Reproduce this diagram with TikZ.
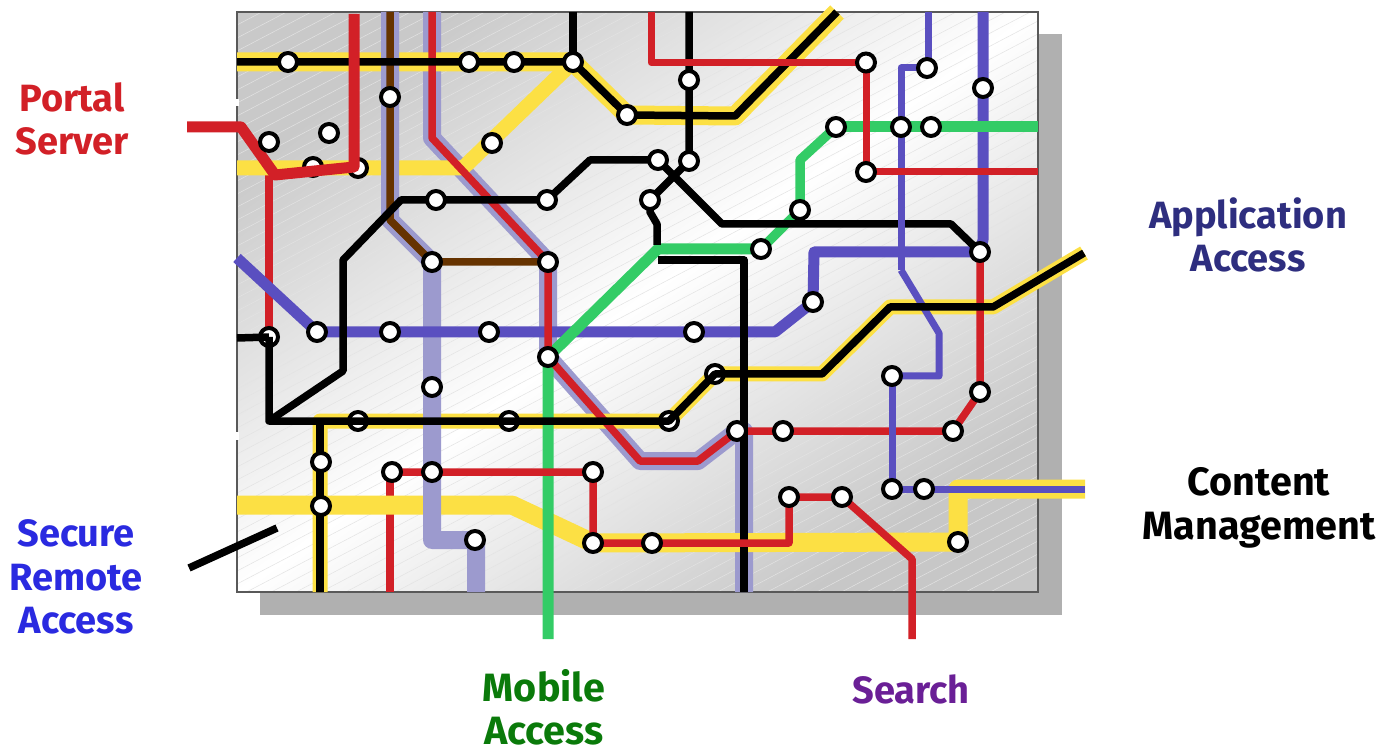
\documentclass[tikz,border=0pt]{standalone}
\usepackage{fontspec}
\setmainfont{Fira Sans}
\definecolor{lineRed}{HTML}{D22027}
\definecolor{lineYellow}{HTML}{FCE044}
\definecolor{linePurple}{HTML}{5A4FC0}
\definecolor{linePale}{HTML}{9C9ACE}
\definecolor{lineBrown}{HTML}{663300}
\definecolor{lineGreen}{HTML}{33CC66}
\definecolor{textNavy}{HTML}{2E2E7F}
\definecolor{textBlue}{HTML}{2A2AE0}
\definecolor{textGreen}{HTML}{0A7A0A}
\definecolor{textPurple}{HTML}{6A1F96}
\pgfdeclarelayer{lines}
\pgfsetlayers{lines,main}
\tikzset{
  station/.style={circle,draw=black,fill=white,line width=4pt,minimum size=18pt,inner sep=0pt},
  tube/.style={line width=#1,line join=round},
  label/.style={font=\bfseries\fontsize{38}{43.3}\selectfont,align=center,inner sep=0pt},
  biglabel/.style={label,font=\bfseries\fontsize{39.5}{43.3}\selectfont},
}
\begin{document}
\begin{tikzpicture}[x=1pt,y=-1pt]
\useasboundingbox (0,0) rectangle (1385,751);
% stations on top of every line
\node[station] (topA) at (288,62) {};
\node[station] (topB) at (469,62) {};
\node[station] (topC) at (514,62) {};
\node[station] (topD) at (573,62) {};
\node[station] (topE) at (627,115) {};
\node[station] (topF) at (689,80) {};
\node[station] (topG) at (390,97) {};
\node[station] (portA) at (269,142) {};
\node[station] (portB) at (329,133) {};
\node[station] (midA) at (492,143) {};
\node[station] (midB) at (436,200) {};
\node[station] (midC) at (547,200) {};
\node[station] (midD) at (432,262) {};
\node[station] (midE) at (548,262) {};
\node[station] (midF) at (658,160) {};
\node[station] (midG) at (689,161) {};
\node[station] (midH) at (650,200) {};
\node[station] (appA) at (866,62.5) {};
\node[station] (appB) at (927,68) {};
\node[station] (appC) at (983,88) {};
\node[station] (appD) at (836,127) {};
\node[station] (appE) at (901,127) {};
\node[station] (appF) at (931,127) {};
\node[station] (appG) at (866,172) {};
\node[station] (appH) at (800,210) {};
\node[station] (appI) at (761,249) {};
\node[station] (appJ) at (980,252) {};
\node[station] (appK) at (813,302) {};
\node[station] (purA) at (317,332) {};
\node[station] (purB) at (390,332) {};
\node[station] (purC) at (489,332) {};
\node[station] (purD) at (694,332) {};
\node[station] (cross) at (548,357) {};
\node[station] (paleA) at (432,387) {};
\node[station] (secA) at (321,462) {};
\node[station] (secB) at (321,506) {};
\node[station] (botA) at (392,472) {};
\node[station] (botB) at (432,472) {};
\node[station] (botC) at (593,472) {};
\node[station] (botD) at (475,540) {};
\node[station] (botE) at (593,543) {};
\node[station] (botF) at (652,543) {};
\node[station] (botG) at (789,497) {};
\node[station] (botH) at (842,497) {};
\node[station] (botI) at (958,542) {};
\node[station] (redA) at (737,431) {};
\node[station] (redB) at (783,431) {};
\node[station] (redC) at (953,431) {};
\node[station] (redD) at (980,392) {};
\node[station] (conA) at (892,376) {};
\node[station] (conB) at (892,489) {};
\node[station] (conC) at (924,489) {};
% free ends of the lines
\coordinate (edgeA) at (237,62);
\coordinate (edgeB) at (573,12);
\coordinate (edgeC) at (689,12);
\coordinate (edgeD) at (837,12);
\coordinate (edgeE) at (432,12);
\coordinate (edgeF) at (390,12);
\coordinate (edgeG) at (651,12);
\coordinate (edgeH) at (354,14);
\coordinate (edgeI) at (928,12);
\coordinate (edgeJ) at (983,12);
\coordinate (edgeK) at (237,168);
\coordinate (edgeL) at (237,258);
\coordinate (edgeM) at (237,338);
\coordinate (edgeN) at (237,505);
\coordinate (edgeO) at (320,592);
\coordinate (edgeP) at (390,592);
\coordinate (edgeQ) at (476,592);
\coordinate (edgeR) at (744,592);
\coordinate (edgeS) at (1038,127);
\coordinate (edgeT) at (1038,172);
\coordinate (outA) at (187,127);
\coordinate (outB) at (548,639);
\coordinate (outC) at (912,639);
\coordinate (outD) at (1084,253);
\coordinate (outE) at (1085,489);
\coordinate (secEndA) at (189,568);
\coordinate (secEndB) at (277,528);
\begin{pgfonlayer}{lines}
% sheet
\fill[black!31] (260,34) rectangle (1062,615);
\shade[top color=black!21,bottom color=black!22,middle color=white,shading angle=36] (237,12) rectangle (1038,592);
\begin{scope}
\clip (237,12) rectangle (1038,592);
\foreach \i in {0,...,75} {
  \draw[line width=.5pt,black!11] (237,12+13*\i) -- (1038,12+13*\i-420);
}
\end{scope}
\draw[line width=1.2pt,black!65] (237,12) rectangle (1038,592);
\fill[white] (235,99) rectangle (239,106);
\fill[white] (235,432) rectangle (239,440);
% pale line under the yellow
\draw[tube=18,linePale] (edgeE) -- (432,138) -- (midE.center) -- (cross.center) -- (640,461) -- (698,461) -- (737,431) -- (744,431) -- (edgeR);
% red under the yellow
\draw[tube=8,lineRed] (269,172) -- (269,337);
\draw[tube=7.5,lineRed] (edgeP) -- (390,472);
% yellow
\draw[tube=19,lineYellow] (edgeA) -- (topD.center) -- (topE.center) -- (735,116) -- (edgeD);
\draw[tube=15,lineYellow] (edgeK) -- (463,168) -- (topD.center);
\draw[tube=15,lineYellow] (edgeO) -- (320,421) -- (669,421) -- (715,374) -- (822,374) -- (890,307) -- (993,307) -- (outD);
\draw[tube=19,lineYellow] (edgeN) -- (512,505) -- (botE.center) -- (botI.center) -- (958,489) -- (outE);
% pale line over the yellow
\draw[tube=18,linePale] (edgeF) -- (390,220) -- (midD.center) -- (432,540) -- (476,540) -- (edgeQ);
\draw[tube=7.5,lineBrown] (edgeF) -- (390,220) -- (midD.center) -- (midE.center);
% purple
\draw[tube=11,linePurple] (edgeJ) -- (983,240) -- (appJ.center) -- (814,252) -- (appK.center) -- (775,332) -- (purA.center) -- (edgeL);
\draw[tube=7,linePurple] (901,270) -- (939,333) -- (939,376) -- (conA.center);
% green
\draw[tube=11,lineGreen] (outB) -- (cross.center) -- (658,249) -- (appI.center);
\draw[tube=9.5,lineGreen] (appI.center) -- (appH.center) -- (800,160) -- (appD.center);
\draw[tube=11,lineGreen] (appD.center) -- (edgeS);
% red under the black
\draw[tube=7.5,lineRed] (edgeE) -- (432,138) -- (midE.center) -- (cross.center) -- (640,461) -- (698,461) -- (redA.center);
\draw[tube=7.5,lineRed] (redA.center) -- (redC.center) -- (redD.center) -- (appJ.center);
% purple over that red
\draw[tube=7,linePurple] (conA.center) -- (conB.center) -- (outE);
% stations under the lines
\node[station] (yelA) at (313,167) {};
\node[station] (yelB) at (358,168) {};
\node[station] (blkA) at (269,337) {};
\node[station] (blkB) at (358,421) {};
\node[station] (blkC) at (509,421) {};
\node[station] (blkD) at (669,421) {};
\node[station] (blkE) at (715,374) {};
% black
\draw[tube=7.5,black] (edgeA) -- (topD.center) -- (topE.center) -- (735,116) -- (edgeD);
\draw[tube=7.5,black] (edgeB) -- (topD.center);
\draw[tube=7.5,black] (edgeC) -- (midG.center) -- (midH.center) -- (650,212) -- (657,224) -- (657,245);
\draw[tube=7.5,black] (658,260) -- (744,260) -- (edgeR);
\draw[tube=7.5,black] (edgeM) -- (blkA.center);
\draw[tube=7.5,black] (blkA.center) -- (269,421) -- (343,371) -- (343,260) -- (401,200) -- (midC.center) -- (590,160) -- (midF.center) -- (722,224) -- (951,224) -- (appJ.center);
\draw[tube=7.5,black] (269,421) -- (blkD.center) -- (blkE.center) -- (822,374) -- (890,307) -- (993,307) -- (outD);
\draw[tube=8,black] (edgeO) -- (320,421);
\draw[tube=7.5,black] (secEndA) -- (secEndB);
% purple over the black
\draw[tube=7,linePurple] (edgeI) -- (928,68) -- (901,68) -- (901,270);
% red over everything
\draw[tube=11,lineRed] (outA) -- (241,127) -- (275,175) -- (354,167) -- (edgeH);
\draw[tube=7,lineRed] (edgeG) -- (651,62.5) -- (appA.center) -- (appG.center) -- (edgeT);
\draw[tube=7.5,lineRed] (botA.center) -- (botC.center) -- (botE.center) -- (789,543) -- (botG.center) -- (botH.center) -- (912,559) -- (outC);
\end{pgfonlayer}
% labels
\node[label,text=lineRed] (portal) at (72,119) {Portal\\Server};
\node[label,text=textNavy] (application) at (1248,235) {Application\\Access};
\node[label,text=textBlue] (secure) at (76,577) {Secure\\Remote\\Access};
\node[biglabel,text=black] (content) at (1259,508) {Content\\Management};
\node[biglabel,text=textGreen] (mobile) at (544,707) {Mobile\\Access};
\node[label,text=textPurple] (search) at (911,689) {Search};
\end{tikzpicture}
\end{document}
